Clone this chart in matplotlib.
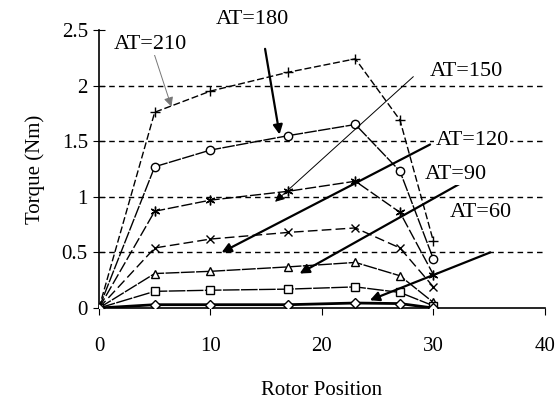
import numpy as np
import matplotlib
matplotlib.use("Agg")
import matplotlib.pyplot as plt

plt.rcParams['font.family'] = ['Liberation Serif', 'DejaVu Serif']

# rotor position samples
pos = [0, 5, 10, 17, 23, 27, 30]

# torque (Nm) per ampere-turn level
t210 = [0, 1.76, 1.95, 2.12, 2.24, 1.69, 0.60]
t180 = [0, 1.27, 1.42, 1.55, 1.65, 1.23, 0.44]
t150 = [0, 0.87, 0.97, 1.05, 1.14, 0.86, 0.30]
t120 = [0, 0.54, 0.62, 0.68, 0.72, 0.54, 0.19]
t90 = [0, 0.31, 0.33, 0.37, 0.41, 0.29, 0.05]
t60 = [0, 0.15, 0.16, 0.17, 0.19, 0.14, 0.02]
t30 = [0, 0.03, 0.03, 0.03, 0.045, 0.04, 0.0]

labels = ["AT=210", "AT=180", "AT=150", "AT=120", "AT=90", "AT=60"]
# text centres, arrow tails and arrow heads in data units
label_xy = [(4.6, 2.37), (13.8, 2.59), (33.0, 2.13), (33.5, 1.51), (32.0, 1.20), (34.3, 0.86)]
tail_xy = [(4.9, 2.30), (14.9, 2.33), (28.2, 2.08), (29.7, 1.47), (32.6, 1.13), (35.1, 0.50)]
head_xy = [(6.5, 1.81), (16.2, 1.56), (15.8, 0.955), (11.0, 0.50), (18.0, 0.31), (24.3, 0.07)]

fig = plt.figure(figsize=(5.56, 3.99), dpi=100)
ax = fig.add_axes([0.178, 0.228, 0.802, 0.697])

for yv in [0.5, 1.0, 1.5, 2.0]:
    ax.plot([0, 40], [yv, yv], color='black', lw=1.0, dashes=(4, 3), zorder=1)

series = [
    (t210, '+', (5, 2), 1.0, 7),
    (t180, 'o', (9, 1), 1.0, 6),
    (t150, (6, 2, 0), (8, 2), 1.0, 7),
    (t120, 'x', (7, 3), 1.0, 6),
    (t90, '^', (10, 1), 1.0, 6),
    (t60, 's', (12, 1), 1.0, 6),
    (t30, 'D', (1, 0), 2.0, 5),
]
for ys, mk, dsh, lw, ms in series:
    ax.plot(pos, ys, color='black', lw=lw, dashes=dsh, marker=mk, markersize=ms,
            markerfacecolor='white', markeredgecolor='black', markeredgewidth=1.0, zorder=3)

for i, lab in enumerate(labels):
    ax.text(label_xy[i][0], label_xy[i][1], lab, fontsize=16, ha='center', va='center',
            zorder=5, clip_on=False, bbox=dict(facecolor='white', edgecolor='none', pad=1))
    lw = 0.7 if i in (0, 2) else 1.6
    col = '#777777' if i == 0 else 'black'
    ax.annotate('', xy=head_xy[i], xytext=tail_xy[i],
                arrowprops=dict(arrowstyle='-|>', color=col, lw=lw, mutation_scale=14,
                                shrinkA=0, shrinkB=0), zorder=4, annotation_clip=False)

ax.set_xlim(0, 40)
ax.set_ylim(0, 2.5)
ax.set_xticks([0, 10, 20, 30, 40])
ax.set_yticks([0, 0.5, 1, 1.5, 2, 2.5])
ax.set_yticklabels(['0', '0.5', '1', '1.5', '2', '2.5'])
ax.spines['top'].set_visible(False)
ax.spines['right'].set_visible(False)
ax.spines['left'].set_linewidth(1.2)
ax.spines['bottom'].set_linewidth(1.2)
ax.tick_params(axis='y', direction='inout', length=8, labelsize=15, pad=4)
ax.tick_params(axis='x', direction='out', length=5, labelsize=15, pad=16)
ax.set_ylabel('Torque (Nm)', fontsize=15, labelpad=12)
ax.set_xlabel('Rotor Position', fontsize=15, labelpad=18)

fig.savefig('out.png', dpi=100)
